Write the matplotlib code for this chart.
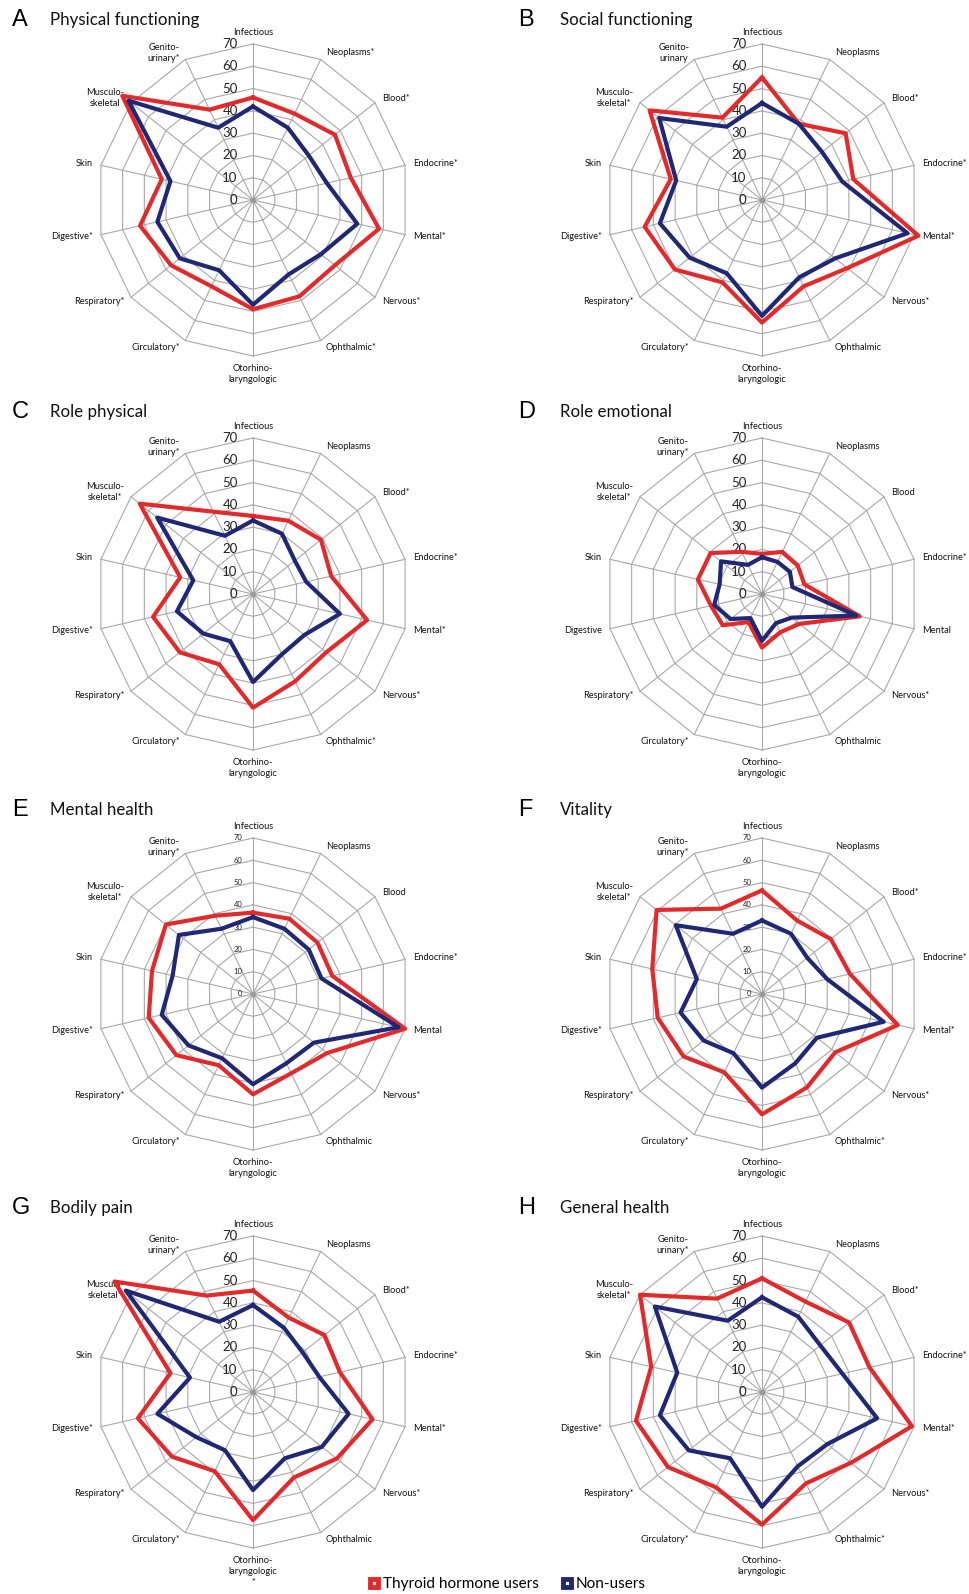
import numpy as np
import matplotlib
matplotlib.use("Agg")
import matplotlib.pyplot as plt
from matplotlib.lines import Line2D

plt.rcParams["font.family"] = ["Lato", "DejaVu Sans"]

# disease groups, clockwise from the top
categories = ["Infectious", "Neoplasms", "Blood", "Endocrine", "Mental", "Nervous",
              "Ophthalmic", "Otorhino-\nlaryngologic", "Circulatory", "Respiratory",
              "Digestive", "Skin", "Musculo-\nskeletal", "Genito-\nurinary"]

letters = ["A", "B", "C", "D", "E", "F", "G", "H"]
titles = ["Physical functioning", "Social functioning", "Role physical", "Role emotional",
          "Mental health", "Vitality", "Bodily pain", "General health"]

# 1 = significant difference (label gets an asterisk)
stars_pf = [0, 1, 1, 1, 1, 1, 1, 0, 1, 1, 1, 0, 0, 1]
stars_sf = [0, 0, 1, 1, 1, 1, 0, 0, 1, 1, 1, 0, 1, 0]
stars_rp = [0, 0, 1, 1, 1, 1, 1, 0, 1, 1, 1, 0, 1, 1]
stars_re = [0, 0, 0, 1, 0, 1, 0, 0, 1, 1, 0, 0, 1, 1]
stars_mh = [0, 0, 0, 1, 0, 1, 0, 0, 1, 1, 1, 0, 1, 1]
stars_vt = [0, 0, 1, 1, 1, 1, 1, 0, 1, 1, 1, 0, 1, 1]
stars_bp = [0, 0, 1, 1, 1, 1, 0, 1, 1, 1, 1, 0, 1, 1]
stars_gh = [0, 0, 1, 1, 1, 1, 1, 0, 1, 1, 1, 0, 1, 1]

# thyroid hormone users
users_pf = [46, 43, 47, 45, 58, 47, 48, 49, 43, 47, 52, 42, 75, 45]
users_sf = [55, 38, 48, 42, 72, 49, 43, 55, 41, 50, 54, 42, 64.5, 41]
users_rp = [35, 36.5, 39, 36, 52.5, 42, 43.5, 51, 35, 42, 46, 33.5, 65, 41]
users_re = [18, 21, 20.5, 19.5, 45, 21.5, 19, 24, 14, 22.5, 23.5, 29.5, 29.5, 21]
users_mh = [36.5, 37.5, 37, 36.5, 70, 42.5, 39.5, 45, 35.5, 44, 48, 46.5, 50, 39]
users_vt = [46.5, 36.5, 39.5, 40.5, 62.5, 42, 46.5, 54, 39, 45, 48, 50.5, 60.5, 42.5]
users_bp = [45.5, 37, 41, 40, 55, 48, 42.5, 57.5, 39.5, 46.5, 53, 38, 79.5, 48]
users_gh = [51, 45, 50, 49.5, 69, 51, 45.5, 59.5, 47.5, 54, 58, 51, 70, 46.5]

# non-users
non_pf = [42, 36, 32, 34, 48, 39, 37, 47, 35, 42, 44, 38, 71.5, 36]
non_sf = [43.5, 38, 34.5, 37, 67, 42, 38.5, 52, 36.5, 41.5, 47, 39.5, 59, 36.5]
non_rp = [33, 30, 24, 24.5, 40, 29.5, 30, 39.5, 23.5, 28.5, 35, 27.5, 55, 29]
non_re = [16.5, 16, 16, 14, 43.5, 17, 14.5, 21, 12, 18, 22, 19.5, 23.5, 14.5]
non_mh = [34.5, 32.5, 32, 31.5, 67, 35, 34.5, 40.5, 32, 37, 42, 37, 42.5, 32.5]
non_vt = [33, 30, 26, 30, 56, 31.5, 34.5, 42, 29.5, 33.5, 37.5, 30, 49.5, 30]
non_bp = [39, 32, 28.5, 30.5, 44, 39.5, 33, 44, 29, 32.5, 44, 29, 73, 35]
non_gh = [42.5, 37.5, 33.5, 37, 53, 37.5, 37, 51.5, 33, 42, 47, 39, 61.5, 35.5]

users = [users_pf, users_sf, users_rp, users_re, users_mh, users_vt, users_bp, users_gh]
nonusers = [non_pf, non_sf, non_rp, non_re, non_mh, non_vt, non_bp, non_gh]
stars = [stars_pf, stars_sf, stars_rp, stars_re, stars_mh, stars_vt, stars_bp, stars_gh]
rticks = [0, 10, 20, 30, 40, 50, 60, 70]

RED = "#e12a2c"
BLUE = "#202775"
GRID = "#a8a8a8"

W, H = 970, 1594
fig = plt.figure(figsize=(W / 100, H / 100), dpi=100)

centers_x = [253, 762]
centers_y = [200, 594, 994, 1392]
R70 = 156.0
RMAX = 80
half = R70 * RMAX / 70

n = len(categories)
theta = np.arange(n) * 2 * np.pi / n
theta_c = np.append(theta, theta[0])

for k in range(8):
    cx = centers_x[k % 2]
    cy = centers_y[k // 2]
    ax = fig.add_axes([(cx - half) / W, 1 - (cy + half) / H, 2 * half / W, 2 * half / H],
                      projection="polar")
    ax.set_theta_zero_location("N")
    ax.set_theta_direction(-1)
    ax.set_ylim(0, RMAX)
    ax.axis("off")

    # polygon grid and spokes
    for r in rticks[1:]:
        ax.plot(theta_c, [r] * (n + 1), color=GRID, lw=0.8, zorder=1)
    for t in theta:
        ax.plot([t, t], [0, 70], color=GRID, lw=0.8, zorder=1)
    ax.plot(0, 0, "o", color="#9a9a9a", ms=3, zorder=2)

    # radial tick labels
    small = k in (4, 5)
    for r in rticks:
        ax.annotate(str(r), (0, r), xytext=(-7.5 if small else -11, 0),
                    textcoords="offset points", ha="right", va="center",
                    fontsize=5.5 if small else 9.5, color="#222222", zorder=2)

    # category labels
    for i, t in enumerate(theta):
        name = categories[i]
        if stars[k][i]:
            name = name + ("\n*" if name.endswith("laryngologic") and k == 6 else "*")
        s, c = np.sin(t), np.cos(t)
        if abs(s) < 0.1:
            ha = "center"
            va = "baseline" if c > 0 else "top"
            dx, dy = 0, (9 if c > 0 else -8)
        else:
            ha = "left" if s > 0 else "right"
            va = "center"
            dx = np.sign(s) * (3 + 5 * abs(s))
            dy = 7.5 * c
        ax.annotate(name, (t, 70), xytext=(dx * 0.72, dy * 0.72),
                    textcoords="offset points", ha=ha, va=va, fontsize=6.7,
                    linespacing=1.3, color="#111111", multialignment="center")

    ax.plot(theta_c, users[k] + users[k][:1], color=RED, lw=3, zorder=3, clip_on=False)
    ax.plot(theta_c, nonusers[k] + nonusers[k][:1], color=BLUE, lw=3, zorder=4, clip_on=False)

    # panel letter and title
    lx = 12 if k % 2 == 0 else 518
    tx = 50 if k % 2 == 0 else 560
    ty = [20, 412, 810, 1208][k // 2]
    fig.text(lx / W, 1 - ty / H, letters[k], fontsize=17, family="Liberation Sans",
             ha="left", va="center")
    fig.text(tx / W, 1 - ty / H, titles[k], fontsize=12.2, ha="left", va="center",
             color="#111111")

handles = [Line2D([], [], marker="s", ls="none", mfc="white", mec=RED, mew=3.5, ms=6),
           Line2D([], [], marker="s", ls="none", mfc="white", mec=BLUE, mew=3.5, ms=6)]
fig.legend(handles, ["Thyroid hormone users", "Non-users"], loc="center",
           bbox_to_anchor=(506 / W, 1 - 1584 / H), ncol=2, frameon=False,
           fontsize=11, handletextpad=0.1, columnspacing=1.3, handlelength=1.0,
           borderpad=0.1)

fig.savefig("out.png", dpi=100)
